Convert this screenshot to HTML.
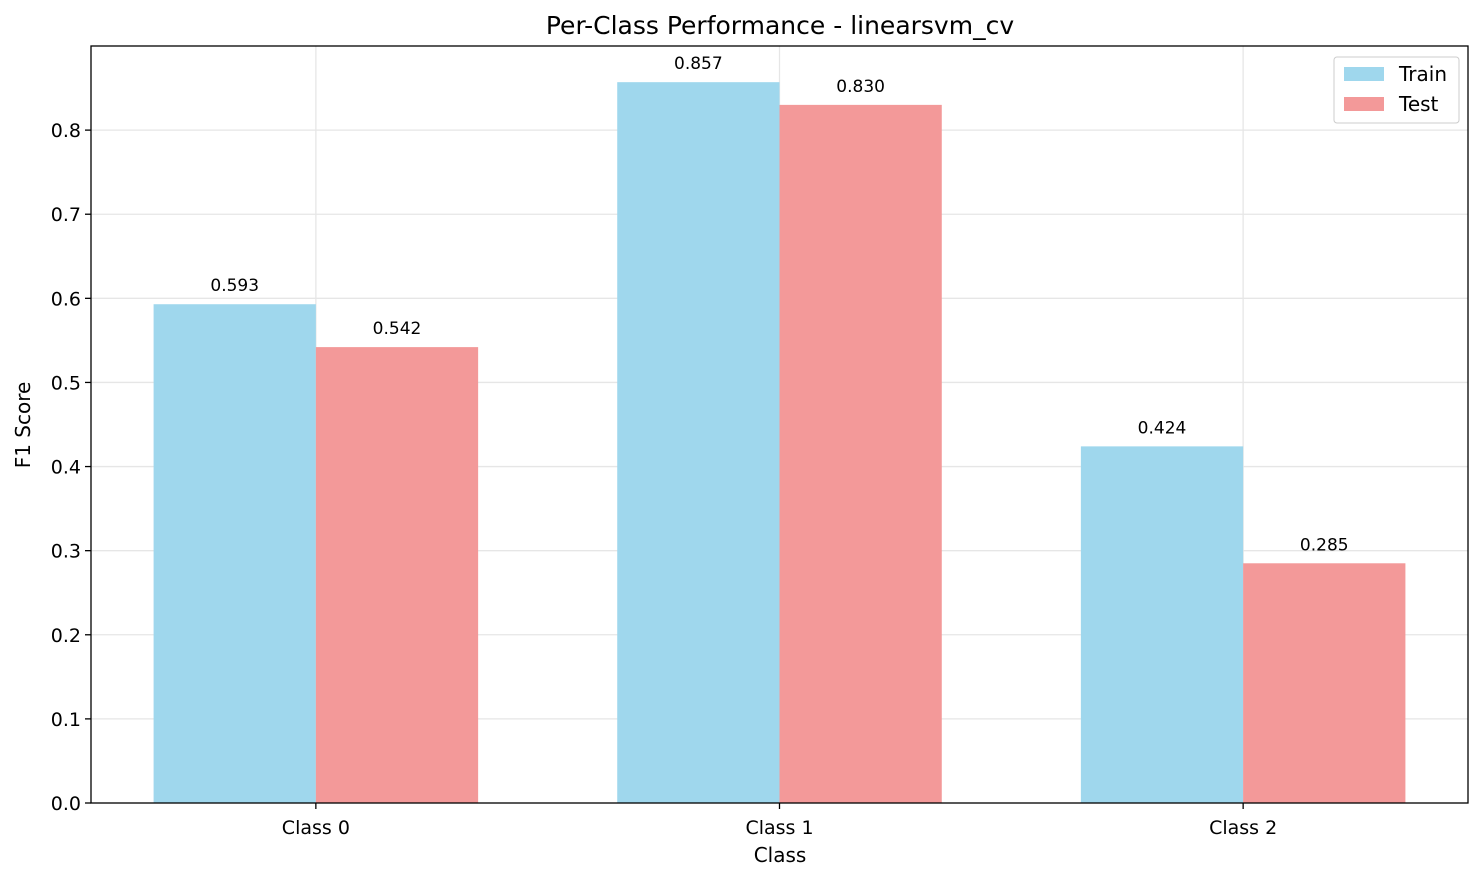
<!DOCTYPE html>
<html><head><meta charset="utf-8"><style>
body{margin:0;background:#fff;}
svg text{font-family:"DejaVu Sans","Liberation Sans",sans-serif;fill:#000;}
</style></head><body>
<svg id="chart" width="1484" height="881" xmlns="http://www.w3.org/2000/svg">
<rect width="1484" height="881" fill="#fff"/>
<g id="grid"></g>
<g id="bars"></g>
<g id="labels"></g>
<rect x="91" y="46" width="1377" height="757" fill="none" stroke="#000" stroke-width="1.3"/>
<g id="yticks"></g>
<g id="xticks"></g>
<text x="780" y="34" font-size="25" text-anchor="middle">Per-Class Performance - linearsvm_cv</text>
<text x="780" y="862" font-size="20" text-anchor="middle">Class</text>
<text transform="translate(30,425) rotate(-90)" font-size="20" text-anchor="middle">F1 Score</text>
<g>
<rect x="1334" y="57" width="125" height="66" fill="#fff" fill-opacity="0.8" stroke="#ccc" rx="3"/>
<rect x="1344" y="67" width="40" height="14" fill="#9fd7ed"/>
<text x="1399" y="81" font-size="20">Train</text>
<rect x="1344" y="97" width="40" height="14" fill="#f39999"/>
<text x="1399" y="111" font-size="20">Test</text>
</g>
</svg>
<script>
const categories=["Class 0","Class 1","Class 2"];
const trainValues=[0.593,0.857,0.424];
const testValues=[0.542,0.830,0.285];
const yTicks=[0,0.1,0.2,0.3,0.4,0.5,0.6,0.7,0.8];
const NS="http://www.w3.org/2000/svg";
const L=91,R=1468,T=46,B=803,xmin=-0.485,xmax=2.485,ymax=0.9;
const xs=v=>L+(v-xmin)/(xmax-xmin)*(R-L);
const ys=v=>B-v/ymax*(B-T);
const bw=0.35;
function mk(tag,attrs,parent){const e=document.createElementNS(NS,tag);for(const k in attrs)e.setAttribute(k,attrs[k]);document.getElementById(parent).appendChild(e);return e;}
yTicks.forEach(t=>{
 const y=ys(t);
 const g=mk("line",{x1:L,x2:R,y1:y,y2:y,stroke:"#e6e6e6","stroke-width":1.3},"grid");
 
 
 const tk=mk("line",{x1:L-6,x2:L,y1:y,y2:y,stroke:"#000","stroke-width":1.3},"yticks");
 
 
 const tx=mk("text",{x:L-10,y:y+7,"font-size":19,"text-anchor":"end"},"yticks");
 tx.textContent=t.toFixed(1);
 
 
});
categories.forEach((c,i)=>{
 const x=xs(i);
 const g=mk("line",{x1:x,x2:x,y1:T,y2:B,stroke:"#e6e6e6","stroke-width":1.3},"grid");
 
 
 const tk=mk("line",{x1:x,x2:x,y1:B,y2:B+6,stroke:"#000","stroke-width":1.3},"xticks");
 
 
 const tx=mk("text",{x:x,y:B+31,"font-size":19,"text-anchor":"middle"},"xticks");
 tx.textContent=c;
 
 
 [[trainValues[i],i-bw/2,"#9fd7ed","train"],[testValues[i],i+bw/2,"#f39999","test"]].forEach(([v,cx,col,nm])=>{
  const x0=xs(cx-bw/2),x1=xs(cx+bw/2);
  const b=mk("rect",{x:x0,y:ys(v),width:x1-x0,height:B-ys(v),fill:col},"bars");
  
  
  const l=mk("text",{x:xs(cx),y:ys(v)-13,"font-size":17,"text-anchor":"middle"},"labels");
  l.textContent=v.toFixed(3);
  
  
 });
});
</script>
</body></html>
